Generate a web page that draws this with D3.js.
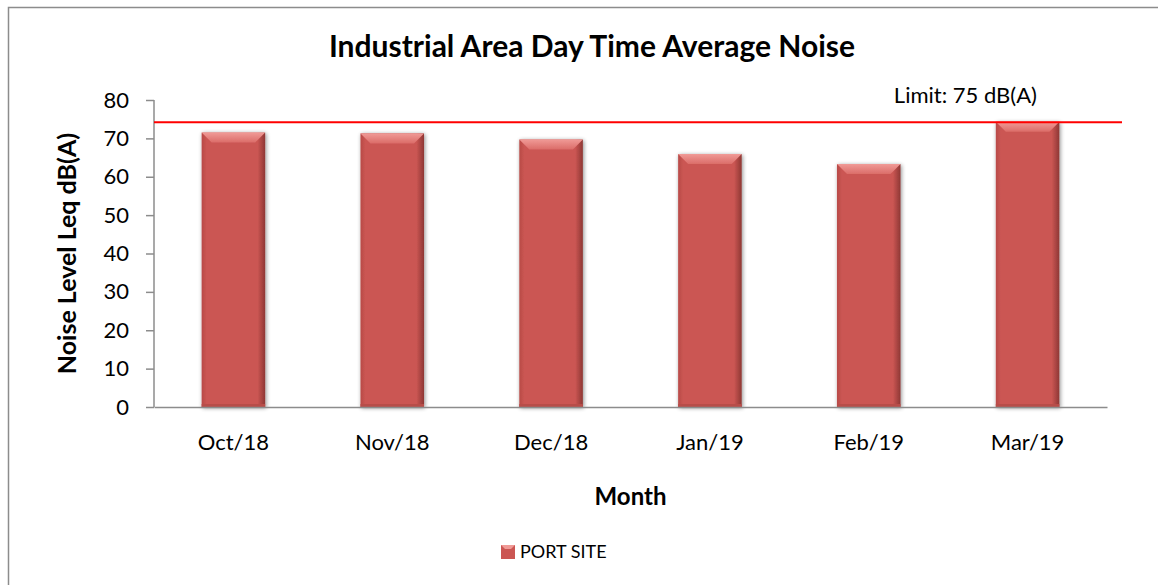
<!DOCTYPE html>
<html>
<head>
<meta charset="utf-8">
<script src="https://cdn.jsdelivr.net/npm/d3@7"></script>
<style>
  body { margin: 0; background: #fff; }
  svg { display: block; font-family: Lato, "Open Sans", sans-serif; }
</style>
</head>
<body>
<svg width="1158" height="585"></svg>
<script>
// chart data
var months = ['Oct/18', 'Nov/18', 'Dec/18', 'Jan/19', 'Feb/19', 'Mar/19'];
var noise = [71.5, 71.3, 69.7, 65.9, 63.3, 74.3];
var yTicks = [0, 10, 20, 30, 40, 50, 60, 70, 80];
var limitValue = 74.2;
var limitLabel = 'Limit: 75 dB(A)';
var seriesName = 'PORT SITE';

var svg = d3.select('svg');
var margin = {left: 154, right: 51, top: 100, bottom: 178};
var width = 1158, height = 585;

// frame (right and bottom edges fall outside the picture)
svg.append('rect')
  .attr('x', 8.5).attr('y', 7.5)
  .attr('width', 1170).attr('height', 600)
  .attr('fill', 'none')
  .attr('stroke', '#8c8c8c')
  .attr('stroke-width', 1.5);

var x = d3.scaleBand()
  .domain(months)
  .range([margin.left, width - margin.right])
  .paddingInner(0.6)
  .paddingOuter(0.3);

var y = d3.scaleLinear()
  .domain([0, 80])
  .range([height - margin.bottom, margin.top]);

var defs = svg.append('defs');
var shadow = defs.append('filter').attr('id', 'shadow')
  .attr('x', '-20%').attr('y', '-10%').attr('width', '140%').attr('height', '120%');
shadow.append('feGaussianBlur').attr('in', 'SourceAlpha').attr('stdDeviation', 2);
shadow.append('feOffset').attr('dx', 1).attr('dy', 1).attr('result', 'blur');
shadow.append('feComponentTransfer').append('feFuncA').attr('type', 'linear').attr('slope', 0.45);
var merge = shadow.append('feMerge');
merge.append('feMergeNode');
merge.append('feMergeNode').attr('in', 'SourceGraphic');

var sideGrad = defs.append('linearGradient').attr('id', 'side')
  .attr('x1', 0).attr('x2', 1).attr('y1', 0).attr('y2', 0);
sideGrad.append('stop').attr('offset', 0).attr('stop-color', '#b84a47');
sideGrad.append('stop').attr('offset', 0.08).attr('stop-color', '#cb5653');
sideGrad.append('stop').attr('offset', 0.88).attr('stop-color', '#cb5653');
sideGrad.append('stop').attr('offset', 1).attr('stop-color', '#8e3734');

var topGrad = defs.append('linearGradient').attr('id', 'topbevel')
  .attr('x1', 0).attr('x2', 0).attr('y1', 0).attr('y2', 1);
topGrad.append('stop').attr('offset', 0).attr('stop-color', '#f09a96');
topGrad.append('stop').attr('offset', 1).attr('stop-color', '#db6c68');

// y axis
var yAxis = svg.append('g')
  .attr('transform', 'translate(' + margin.left + ',0)')
  .call(d3.axisLeft(y).tickValues(yTicks).tickSize(8).tickPadding(17));
yAxis.select('.domain').attr('stroke', '#8c8c8c').attr('stroke-width', 1.5)
  .attr('d', 'M0,' + y(80) + 'V' + y(0));
yAxis.selectAll('.tick line').attr('stroke', '#8c8c8c').attr('stroke-width', 1.5);
yAxis.selectAll('.tick text').attr('font-size', 22).attr('fill', '#000')
  .attr('font-family', 'Lato, "Open Sans", sans-serif');

// bars
var bars = svg.append('g').selectAll('g.bar')
  .data(noise).enter()
  .append('g').attr('class', 'bar')
  .attr('filter', 'url(#shadow)');

bars.append('rect')
  .attr('x', (d, i) => x(months[i]))
  .attr('y', d => y(d))
  .attr('width', x.bandwidth())
  .attr('height', d => y(0) - y(d))
  .attr('fill', 'url(#side)');

bars.append('path')
  .attr('d', (d, i) => {
    var x0 = x(months[i]), x1 = x0 + x.bandwidth(), t = y(d), b = 10;
    return 'M' + x0 + ',' + t + 'H' + x1 + 'L' + (x1 - b) + ',' + (t + b) +
      'H' + (x0 + b) + 'Z';
  })
  .attr('fill', 'url(#topbevel)');

bars.append('rect')
  .attr('x', (d, i) => x(months[i]))
  .attr('y', d => y(0) - 3)
  .attr('width', x.bandwidth())
  .attr('height', 3)
  .attr('fill', '#b84d4a');

// x axis
var xAxis = svg.append('g')
  .attr('transform', 'translate(0,' + y(0) + ')')
  .call(d3.axisBottom(x).tickSize(0).tickPadding(27));
xAxis.select('.domain').attr('stroke', '#8c8c8c').attr('stroke-width', 1.5);
xAxis.selectAll('.tick text').attr('font-size', 22).attr('fill', '#000')
  .attr('font-family', 'Lato, "Open Sans", sans-serif');

// limit line
svg.append('line')
  .attr('x1', margin.left).attr('x2', 1122)
  .attr('y1', y(limitValue)).attr('y2', y(limitValue))
  .attr('stroke', '#ff0000').attr('stroke-width', 2);

svg.append('text')
  .attr('x', 1037).attr('y', 103)
  .attr('text-anchor', 'end')
  .attr('font-size', 22)
  .text(limitLabel);

// titles
svg.append('text')
  .attr('x', 592).attr('y', 57)
  .attr('text-anchor', 'middle')
  .attr('font-size', 30).attr('font-weight', 'bold')
  .text('Industrial Area Day Time Average Noise');

svg.append('text')
  .attr('transform', 'translate(76,' + y(40) + ') rotate(-90)')
  .attr('text-anchor', 'middle')
  .attr('font-size', 25).attr('font-weight', 'bold')
  .text('Noise Level Leq dB(A)');

svg.append('text')
  .attr('x', (margin.left + width - margin.right) / 2).attr('y', 505)
  .attr('text-anchor', 'middle')
  .attr('font-size', 24).attr('font-weight', 'bold')
  .text('Month');

// legend
var legend = svg.append('g').attr('transform', 'translate(501,545)');
legend.append('rect').attr('width', 14).attr('height', 14).attr('fill', '#cb5653');
legend.append('path').attr('d', 'M0,0H14L10,4H4Z').attr('fill', '#f09a96');
legend.append('text').attr('x', 19).attr('y', 13)
  .attr('font-size', 18).text(seriesName);
</script>
</body>
</html>
